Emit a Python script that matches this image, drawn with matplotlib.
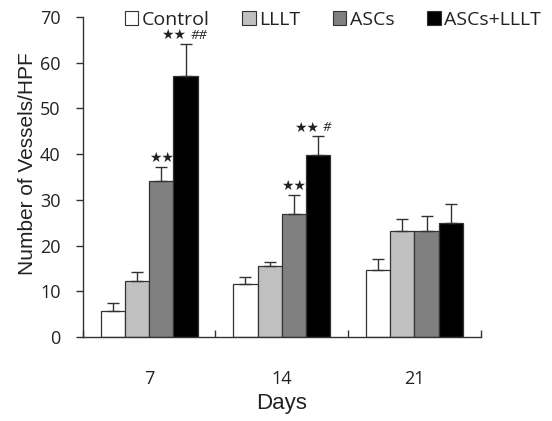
import matplotlib
matplotlib.use("Agg")
import matplotlib.pyplot as plt
import numpy as np
from matplotlib.patches import Patch

plt.rcParams['font.family'] = ['Open Sans', 'DejaVu Sans']

days = ['7', '14', '21']
groups = ['Control', 'LLLT', 'ASCs', 'ASCs+LLLT']
colors = ['#ffffff', '#c0c0c0', '#808080', '#000000']
means = {
    'Control':   [5.7, 11.5, 14.6],
    'LLLT':      [12.3, 15.5, 23.1],
    'ASCs':      [34.2, 26.9, 23.1],
    'ASCs+LLLT': [57.1, 39.9, 25.0],
}
errs = {
    'Control':   [1.8, 1.6, 2.4],
    'LLLT':      [2.0, 0.9, 2.7],
    'ASCs':      [3.0, 4.2, 3.3],
    'ASCs+LLLT': [7.1, 4.0, 4.1],
}
# significance annotations: (group, day index, stars, hashes)
annots = [('ASCs', 0, '★★', ''), ('ASCs+LLLT', 0, '★★', '##'),
          ('ASCs', 1, '★★', ''), ('ASCs+LLLT', 1, '★★', '#')]

fig = plt.figure(figsize=(5.52, 4.21), dpi=100)
ax = fig.add_axes([0.150, 0.1995, 0.721, 0.7601])

x = np.arange(len(days))
w = 0.183
for i, g in enumerate(groups):
    pos = x + (i - 1.5) * w
    ax.bar(pos, means[g], width=w, color=colors[i], edgecolor='#333333',
           linewidth=0.9, zorder=2)
    ax.errorbar(pos, means[g], yerr=[np.zeros(3), errs[g]], fmt='none',
                ecolor='#333333', elinewidth=1.0, capsize=4, capthick=1.0, zorder=3)

for g, d, s, h in annots:
    i = groups.index(g)
    xp = x[d] + (i - 1.5) * w
    top = means[g][d] + errs[g][d]
    if h:
        ax.text(xp + 0.005, top + 0.4, s, ha='right', va='bottom', fontsize=10,
                family='DejaVu Sans', color='#222222')
        ax.text(xp + 0.035, top + 0.4, h, ha='left', va='bottom', fontsize=9.5,
                style='italic', color='#222222')
    else:
        ax.text(xp, top + 0.4, s, ha='center', va='bottom', fontsize=10,
                family='DejaVu Sans', color='#222222')

ax.set_xlim(-0.5, 2.5)
ax.set_ylim(0, 70)
ax.set_yticks(range(0, 71, 10))
ax.set_xticks(x)
ax.set_xticklabels(days)
ax.set_xticks([-0.5, 0.5, 1.5, 2.5], minor=True)
ax.tick_params(axis='x', which='major', length=0, pad=24, labelsize=13, labelcolor='#222222')
ax.tick_params(axis='x', which='minor', direction='in', length=5, width=1, color='#333333')
ax.tick_params(axis='y', direction='out', length=5, width=1, color='#333333',
               labelsize=13, pad=11, labelcolor='#222222')
for sp in ['top', 'right']:
    ax.spines[sp].set_visible(False)
for sp in ['left', 'bottom']:
    ax.spines[sp].set_color('#333333')
    ax.spines[sp].set_linewidth(1)

ax.set_xlabel('Days', fontsize=16, family='Liberation Sans', color='#222222')
ax.xaxis.set_label_coords(0.5, -0.175)
ax.set_ylabel('Number of Vessels/HPF', fontsize=15, family='Liberation Sans', color='#222222')
ax.yaxis.set_label_coords(-0.115, 0.542)

handles = [Patch(facecolor=colors[i], edgecolor='#333333', linewidth=0.8) for i in range(4)]
fig.legend(handles, groups, loc='center left', bbox_to_anchor=(0.208, 0.953), ncol=4,
           frameon=False, fontsize=14, handlelength=0.7, handleheight=0.7,
           handletextpad=0.2, columnspacing=1.65, borderpad=0, labelcolor='#222222')

fig.savefig('out.png', dpi=100)
